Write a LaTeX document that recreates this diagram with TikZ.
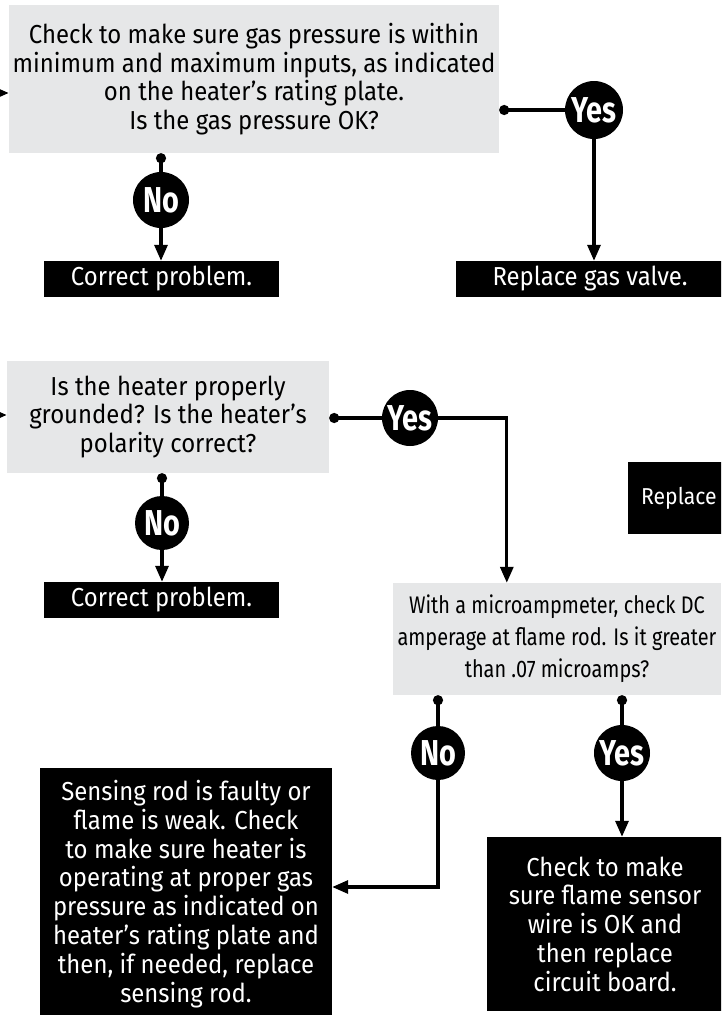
\documentclass[tikz,border=0pt]{standalone}
\usepackage{fontspec}
\setmainfont{Fira Sans}[FakeStretch=0.92]
\newfontfamily\ynfont{Fira Sans}[FakeStretch=0.8]
\newfontfamily\narrowfont{Fira Sans}[FakeStretch=0.83]
\usetikzlibrary{arrows.meta,calc}
\definecolor{boxgray}{RGB}{230,231,232}
\begin{document}
\begin{tikzpicture}[x=1pt,y=-1pt,
  qbox/.style={rectangle, fill=boxgray, inner sep=0pt, align=center, text=black,
    font=\fontsize{26}{28.5}\selectfont},
  abox/.style={rectangle, fill=black, inner sep=0pt, align=center, text=white,
    font=\fontsize{26}{28.8}\selectfont},
  yn/.style={circle, fill=black, text=white, inner sep=0pt, minimum size=56pt,
    font=\ynfont\bfseries\fontsize{36}{36}\selectfont},
  conn/.style={line width=3.2pt, {Circle[length=10pt]}-},
  arr/.style={line width=3.2pt, -{Triangle[width=13pt,length=16pt]}}]
\useasboundingbox (0,0) rectangle (721,1015);
\clip (0,0) rectangle (721,1015);
\fill[white] (0,0) rectangle (721,1015);

% question boxes
\node[qbox, minimum width=490pt, minimum height=148pt] (box1) at (254,79)
  {Check to make sure gas pressure is within\\minimum and maximum inputs, as indicated\\on the heater’s rating plate.\\Is the gas pressure OK?};
\node[qbox, minimum width=322pt, minimum height=112pt] (box2) at (168,417)
  {Is the heater properly\\grounded? Is the heater’s\\polarity correct?};
\node[qbox, minimum width=328pt, minimum height=112pt, font=\narrowfont\fontsize{24}{32}\selectfont] (box3) at (557,639)
  {With a microampmeter, check DC\\amperage at flame rod. Is it greater\\than .07 microamps?};

% action boxes
\node[abox, minimum width=235pt, minimum height=36pt] (cp1) at (161.5,279) {Correct problem.};
\node[abox, minimum width=268pt, minimum height=36pt] (rgv) at (590,279) {Replace gas valve.};
\node[abox, minimum width=235pt, minimum height=36pt] (cp2) at (161.5,600) {Correct problem.};
\node[abox, anchor=west, minimum height=72pt, inner xsep=13pt, text width=100pt, align=left,
  font=\fontsize{23}{28}\selectfont] (rep) at (628,498) {Replace};
\node[abox, minimum width=292pt, minimum height=252pt] (lbox) at (186,894)
  {Sensing rod is faulty or\\flame is weak. Check\\to make sure heater is\\operating at proper gas\\pressure as indicated on\\heater’s rating plate and\\then, if needed, replace\\sensing rod.};
\node[abox, minimum width=236pt, minimum height=174pt] (rbox) at (605,924)
  {Check to make\\sure flame sensor\\wire is OK and\\then replace\\circuit board.};

% yes / no circles
\node[yn, minimum size=58pt] (yes1) at (594,110) {Yes};
\node[yn] (no1) at (161,200) {No};
\node[yn] (yes2) at (410,418) {Yes};
\node[yn, minimum size=54pt] (no2) at (162,523) {No};
\node[yn, minimum size=54pt] (no3) at (438,753) {No};
\node[yn] (yes3) at (622,753) {Yes};

% entry arrows from the left
\coordinate (in1) at (-20,93);
\coordinate (in2) at (-20,415);
\draw[arr] (in1) -- (box1.west |- in1);
\draw[arr] (in2) -- (box2.west |- in2);

% connectors
\draw[conn] (box1.east |- yes1) -- (yes1);
\draw[arr] (yes1) -- (yes1 |- rgv.north);
\draw[conn] (box1.south -| no1) -- (no1);
\draw[arr] (no1) -- (no1 |- cp1.north);

\draw[conn] (box2.east |- yes2) -- (yes2);
\draw[arr] (yes2) -| ($(box3.north west)+(114,0)$);
\draw[conn] (box2.south -| no2) -- (no2);
\draw[arr] (no2) -- (no2 |- cp2.north);

\draw[conn] (box3.south -| no3) -- (no3);
\draw[arr] (no3) |- ([yshift=7pt]lbox.east);
\draw[conn] (box3.south -| yes3) -- (yes3);
\draw[arr] (yes3) -- (yes3 |- rbox.north);
\end{tikzpicture}
\end{document}
